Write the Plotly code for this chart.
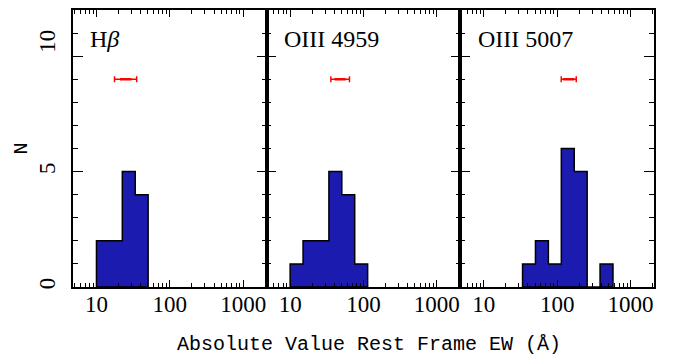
import numpy as np
import plotly.graph_objects as go

# ---- data ----
panel_names = ["H<i>β</i>", "OIII 4959", "OIII 5007"]
# histogram bin edges (EW, Angstrom) and counts per panel
hb_edges = [10.0, 15.0, 22.5, 33.75, 50.6]
hb_counts = [2, 2, 5, 4]
o4959_edges = [10.0, 15.0, 22.5, 33.75, 50.6, 75.9, 113.9]
o4959_counts = [1, 2, 2, 5, 4, 1]
o5007_edges = [33.75, 50.6, 75.9, 113.9, 170.9, 256.3, 384.4, 576.7]
o5007_counts = [1, 2, 1, 6, 5, 0, 1]
# red error-bar markers (center, low, high) at N = 9
err_center = [25.0, 48.0, 144.0]
err_low = [17.6, 35.9, 113.7]
err_high = [35.3, 64.4, 182.0]
err_y = [9, 9, 9]
xtick_vals = [10, 100, 1000]
xtick_text = ["10", "100", "1000"]
ytick_vals = [0, 5, 10]
ytick_text = ["0", "5", "\u2007\u200710"]

edges_list = [hb_edges, o4959_edges, o5007_edges]
counts_list = [hb_counts, o4959_counts, o5007_counts]

BAR = "rgb(27,27,175)"
fig = go.Figure()

def step_poly(edges, counts):
    xs = [edges[0]]
    ys = [0]
    for i, c in enumerate(counts):
        xs += [edges[i], edges[i + 1]]
        ys += [c, c]
    xs += [edges[-1], edges[0]]
    ys += [0, 0]
    return xs, ys

for i in range(3):
    sfx = "" if i == 0 else str(i + 1)
    xs, ys = step_poly(edges_list[i], counts_list[i])
    fig.add_trace(go.Scatter(x=xs, y=ys, mode="lines", fill="toself",
                             fillcolor=BAR, line=dict(color="black", width=1.5),
                             xaxis="x" + sfx, yaxis="y" + sfx, showlegend=False,
                             hoverinfo="skip"))
    fig.add_trace(go.Scatter(
        x=[err_center[i]], y=[err_y[i]], mode="markers",
        marker=dict(symbol="line-ew", size=8, color="red",
                    line=dict(color="red", width=2.5)),
        error_x=dict(type="data", symmetric=False,
                     array=[err_high[i] - err_center[i]],
                     arrayminus=[err_center[i] - err_low[i]],
                     color="red", thickness=1.5, width=3),
        xaxis="x" + sfx, yaxis="y" + sfx, showlegend=False))

minor_x = [m * 10 ** k for k in range(0, 4) for m in range(2, 10)]
minor_x = [v for v in minor_x if v < 2100]

fig.update_layout(width=673, height=362, margin=dict(l=73, r=19, t=8, b=75),
                  plot_bgcolor="white", paper_bgcolor="white", showlegend=False,
                  font=dict(family="Liberation Serif", size=23, color="black"))

for i in range(3):
    sfx = "" if i == 0 else str(i + 1)
    dom = [i / 3, (i + 1) / 3]
    fig.update_layout({
        "xaxis" + sfx: dict(
            type="log", range=[0.68, 3.32], domain=dom, anchor="y" + sfx,
            showline=True, linecolor="black", linewidth=1.5, mirror="ticks",
            ticks="inside", ticklen=7, tickwidth=1.3, tickcolor="black",
            tickmode="array", tickvals=xtick_vals, ticktext=xtick_text,
            tickfont=dict(family="Liberation Serif", size=23, color="black"),
            ticklabelstandoff=-4, showgrid=False, zeroline=False,
            minor=dict(ticks="inside", ticklen=4, tickwidth=1, tickcolor="black",
                       tickvals=minor_x, showgrid=False)),
        "yaxis" + sfx: dict(
            range=[0, 12], domain=[0, 1], anchor="x" + sfx,
            showline=True, linecolor="black", linewidth=1.5, mirror="ticks",
            ticks="inside", ticklen=10, tickwidth=1.3, tickcolor="black",
            tickmode="array", tickvals=ytick_vals, ticktext=ytick_text,
            tickfont=dict(family="Liberation Serif", size=23, color="black"),
            tickangle=-90, showticklabels=(i == 0), ticklabelstandoff=7,
            showgrid=False, zeroline=False,
            minor=dict(ticks="inside", ticklen=5, tickwidth=1, tickcolor="black",
                       dtick=1, showgrid=False)),
    })

for i in range(3):
    sfx = "" if i == 0 else str(i + 1)
    fig.add_annotation(text=panel_names[i], xref="x" + sfx + " domain",
                       yref="y" + sfx + " domain", x=0.08, y=0.894,
                       xanchor="left", yanchor="middle", showarrow=False,
                       font=dict(family="Liberation Serif", size=24, color="black"))

fig.add_annotation(text="Absolute Value Rest Frame EW (Å)", xref="paper", yref="paper",
                   x=(369 - 73) / 581, y=-(345 - 287) / 279, xanchor="center",
                   yanchor="middle", showarrow=False,
                   font=dict(family="Liberation Mono", size=20, color="black"))
fig.add_annotation(text="N", xref="paper", yref="paper",
                   x=-(73 - 21) / 581, y=0.5, xanchor="center", yanchor="middle",
                   textangle=-90, showarrow=False,
                   font=dict(family="Liberation Mono", size=20, color="black"))

fig.write_html("out.html")
